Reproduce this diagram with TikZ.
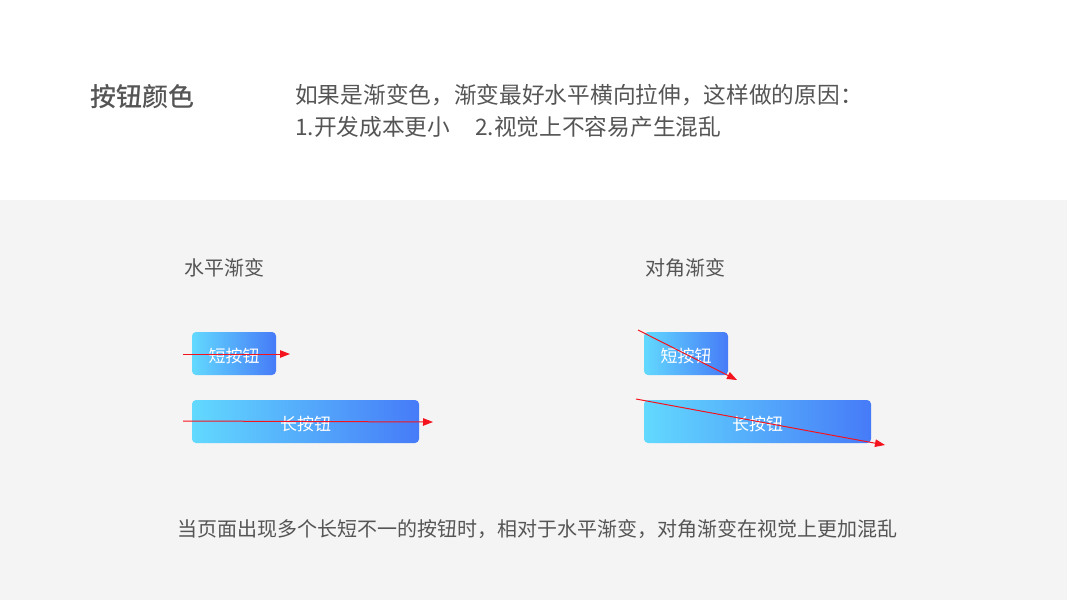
\documentclass[tikz,border=0pt]{standalone}
\usepackage{fontspec}
\setmainfont{Noto Sans CJK SC}
\newfontfamily\headfont{Noto Sans CJK SC Medium}
\usetikzlibrary{arrows.meta,positioning}
\definecolor{txtgray}{HTML}{555555}
\definecolor{bggray}{HTML}{F4F4F4}
\definecolor{btncyan}{HTML}{62D9FE}
\definecolor{btnblue}{HTML}{467BF8}
\definecolor{arrowred}{HTML}{F5141E}

\begin{document}
\begin{tikzpicture}[x=1pt,y=-1pt,
            heading/.style = {anchor=west, inner sep=0pt, text=txtgray,
                              font=\fontsize{26}{30}\headfont},
            desc/.style = {anchor=north west, inner sep=0pt, align=left, text=txtgray,
                           font=\fontsize{22.7}{32}\selectfont},
            caption/.style = {anchor=west, inner sep=0pt, text=txtgray,
                              font=\fontsize{20}{24}\selectfont},
            btn/.style = {rounded corners=4pt, left color=btncyan, right color=btnblue,
                          draw=none, text=white, minimum height=43pt,
                          text height=18pt, text depth=0pt,
                          font=\fontsize{17}{20}\selectfont},
            redarrow/.style = {draw=arrowred, line width=1pt,
                               -{Triangle[length=10pt,width=7.5pt]}}]

% background
\fill[white] (0,0) rectangle (1067,200);
\fill[bggray] (0,200) rectangle (1067,600);
\useasboundingbox (0,0) rectangle (1067,600);

% header
\node[heading] (title) at (90,97) {按钮颜色};
\node[desc] (reason) at (295,84.5) {如果是渐变色，渐变最好水平横向拉伸，这样做的原因：\\
    1.开发成本更小\hspace{1.1em}2.视觉上不容易产生混乱};

% horizontal gradient
\node[caption] (hlabel) at (184,268) {水平渐变};
\node[btn, minimum width=84pt] (hshort) at (234,353.5) {短按钮};
\node[btn, minimum width=227pt] (hlong) at (305.5,421.5) {长按钮};
\coordinate (hs1) at (183,354);
\coordinate (hs2) at (290,354);
\coordinate (hl1) at (183,421);
\coordinate (hl2) at (433,422);
\draw[redarrow] (hs1) -- (hs2);
\draw[redarrow] (hl1) -- (hl2);

% diagonal gradient
\node[caption] (dlabel) at (645,268) {对角渐变};
\node[btn, minimum width=84pt] (dshort) at (686,353.5) {短按钮};
\node[btn, minimum width=227pt] (dlong) at (757.5,421.5) {长按钮};
\coordinate (ds1) at (638,330);
\coordinate (ds2) at (737,380);
\coordinate (dl1) at (636,399);
\coordinate (dl2) at (885,445);
\draw[redarrow] (ds1) -- (ds2);
\draw[redarrow] (dl1) -- (dl2);

% conclusion
\node[caption] (summary) at (177,529) {当页面出现多个长短不一的按钮时，相对于水平渐变，对角渐变在视觉上更加混乱};

\end{tikzpicture}
\end{document}
